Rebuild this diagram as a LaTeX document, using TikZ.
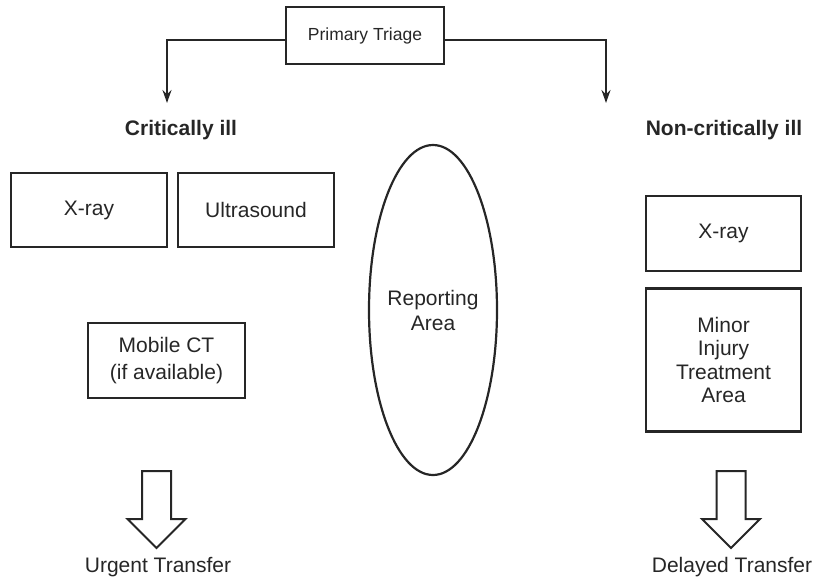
\documentclass[tikz,border=0pt]{standalone}
\usepackage{fontspec}
\setmainfont{Liberation Sans}
\usetikzlibrary{arrows.meta,shapes.geometric}
\begin{document}
\begin{tikzpicture}[x=1pt,y=-1pt,
  every node/.style={font=\fontsize{21}{25}\selectfont, align=center, inner sep=0pt, text=black!85},
  box/.style={draw=black!85, line width=2.2pt},
  heading/.style={font=\fontsize{21}{25}\selectfont\bfseries},
  conn/.style={draw=black!85, line width=2pt, -{Stealth[length=13pt,width=9pt]}},
  pics/downarrow/.style={code={
    \draw[draw=black!85, line width=2pt, line join=miter, fill=white]
      (-14.5,0) -- (14.5,0) -- (14.5,48) -- (29,48) -- (0,77)
      -- (-29,48) -- (-14.5,48) -- cycle;}}]
\useasboundingbox (0,0) rectangle (824,582);

% top: triage and its two branches
\node[box, minimum width=158pt, minimum height=57pt, font=\fontsize{17.5}{22}\selectfont] (pt) at (365,35.5) {Primary Triage};
\coordinate (ly) at (0,40);
\coordinate (ca) at (167,103);
\coordinate (cb) at (606,103);
\draw[conn] (pt.west |- ly) -| (ca);
\draw[conn] (pt.east |- ly) -| (cb);
\node[heading] (crit) at (181,130) {Critically ill};
\node[heading] (ncrit) at (724,130) {Non-critically ill};

% critically ill side
\node[box, minimum width=156pt, minimum height=74pt] (xl) at (89,210) {X-ray};
\node[box, minimum width=156pt, minimum height=74pt] (us) at (256,210) {Ultrasound};
\node[box, minimum width=157pt, minimum height=75pt, font=\fontsize{21}{27}\selectfont] (ct) at (166.5,360.5) {Mobile CT\\(if available)};

% reporting area
\node[ellipse, draw=black!85, line width=2.2pt, minimum width=128pt, minimum height=330pt] (rep) at (433,310) {};
\node (reptext) at (433,310) {Reporting\\Area};

% non-critically ill side
\node[box, minimum width=155pt, minimum height=75pt] (xr) at (723.5,233.5) {X-ray};
\node[box, minimum width=155pt, minimum height=143pt, font=\fontsize{21}{23.5}\selectfont] (mi) at (723.5,360) {Minor\\Injury\\Treatment\\Area};

% transfers
\pic at (156.5,471) {downarrow};
\pic at (731,471) {downarrow};
\node (ut) at (158,567) {Urgent Transfer};
\node (dt) at (732,567) {Delayed Transfer};
\end{tikzpicture}
\end{document}
